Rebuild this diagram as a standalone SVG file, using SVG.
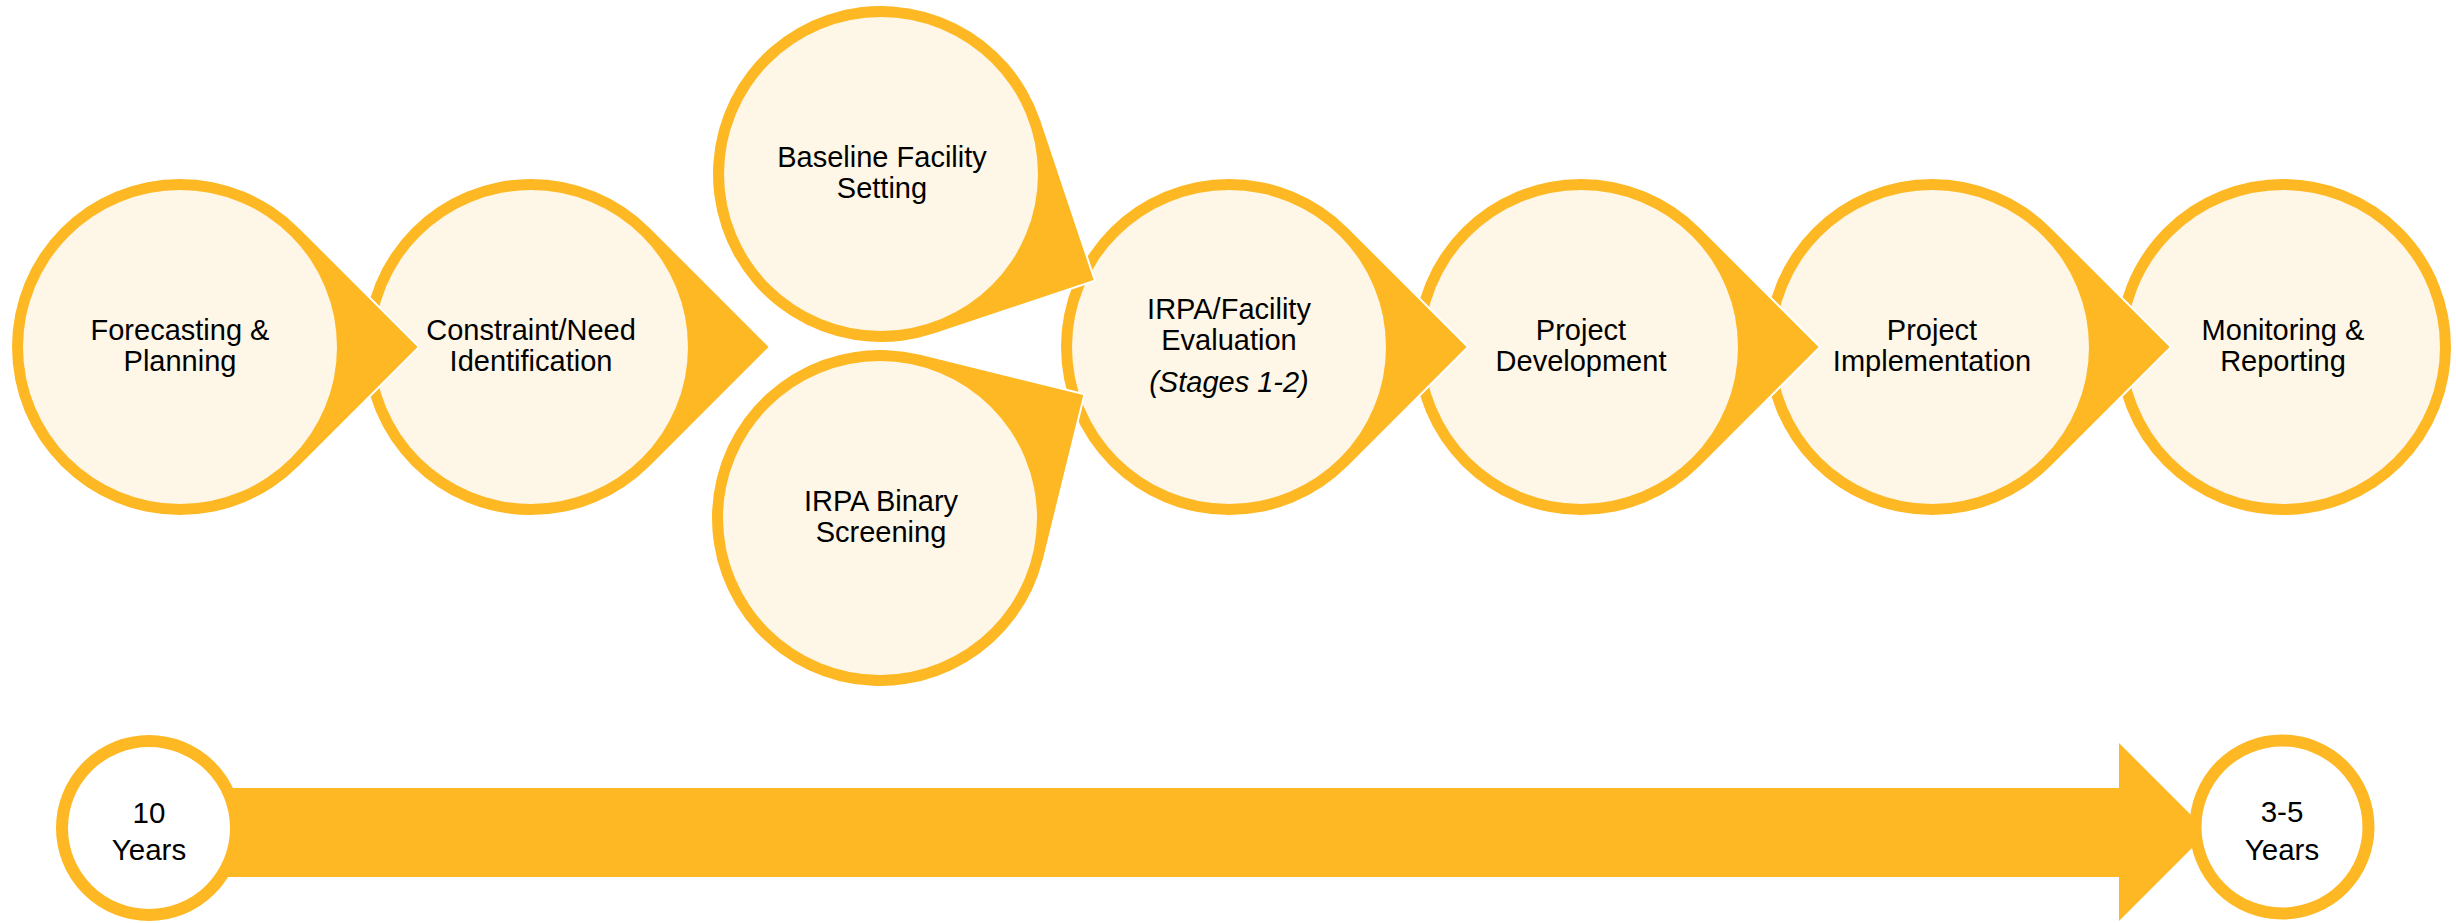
<svg xmlns="http://www.w3.org/2000/svg" xmlns:xlink="http://www.w3.org/1999/xlink" width="2456" height="923" viewBox="0 0 2456 923">
  <style>
    .drop { fill: #FDB823; stroke: #FFFFFF; stroke-width: 4; paint-order: stroke; stroke-linejoin: miter; }
    .core { fill: #FEF6E6; }
    .ring { fill: #FEF6E6; stroke: #FDB823; stroke-width: 11; }
    .stamp { fill: #FFFFFF; stroke: #FDB823; stroke-width: 12; }
    .bar { fill: #FDB823; }
    .label { font-family: "Liberation Sans", Arial, sans-serif; font-size: 29px; fill: #000000; text-anchor: middle; }
    .big { font-size: 29.5px; }
    .em { font-style: italic; }
  </style>
  <defs>
    <!-- teardrop: circle r=168 with a square corner pointing along +x -->
    <path id="drop" d="M 237.6 0 L 118.8 118.8 A 168 168 0 1 1 118.8 -118.8 Z"/>
  </defs>

  <rect width="2456" height="923" fill="#FFFFFF"/>

  <!-- process steps, drawn right to left so each pointer sits on the next step -->
  <g id="monitoring">
    <circle class="ring" cx="2283" cy="347" r="162.5"/>
    <text class="label"><tspan x="2283" y="340">Monitoring &amp;</tspan><tspan x="2283" y="371">Reporting</tspan></text>
  </g>

  <g id="implementation">
    <use xlink:href="#drop" class="drop" transform="translate(1932 347)"/>
    <circle class="core" cx="1932" cy="347" r="157"/>
    <text class="label"><tspan x="1932" y="340">Project</tspan><tspan x="1932" y="371">Implementation</tspan></text>
  </g>

  <g id="development">
    <use xlink:href="#drop" class="drop" transform="translate(1581 347)"/>
    <circle class="core" cx="1581" cy="347" r="157"/>
    <text class="label"><tspan x="1581" y="340">Project</tspan><tspan x="1581" y="371">Development</tspan></text>
  </g>

  <g id="evaluation">
    <use xlink:href="#drop" class="drop" transform="translate(1229 347)"/>
    <circle class="core" cx="1229" cy="347" r="157"/>
    <text class="label"><tspan x="1229" y="319">IRPA/Facility</tspan><tspan x="1229" y="350">Evaluation</tspan><tspan class="em" x="1229" y="392">(Stages 1-2)</tspan></text>
  </g>

  <g id="binary-screening">
    <use xlink:href="#drop" class="drop" transform="translate(880 518) rotate(-31.2)"/>
    <circle class="core" cx="880" cy="518" r="157"/>
    <text class="label"><tspan x="881" y="511">IRPA Binary</tspan><tspan x="881" y="542">Screening</tspan></text>
  </g>

  <g id="baseline-setting">
    <use xlink:href="#drop" class="drop" transform="translate(881 174) rotate(26.5)"/>
    <circle class="core" cx="881" cy="174" r="157"/>
    <text class="label"><tspan x="882" y="167">Baseline Facility</tspan><tspan x="882" y="198">Setting</tspan></text>
  </g>

  <g id="constraint">
    <use xlink:href="#drop" class="drop" transform="translate(531 347)"/>
    <circle class="core" cx="531" cy="347" r="157"/>
    <text class="label"><tspan x="531" y="340">Constraint/Need</tspan><tspan x="531" y="371">Identification</tspan></text>
  </g>

  <g id="forecasting">
    <use xlink:href="#drop" class="drop" transform="translate(180 347)"/>
    <circle class="core" cx="180" cy="347" r="157"/>
    <text class="label"><tspan x="180" y="340">Forecasting &amp;</tspan><tspan x="180" y="371">Planning</tspan></text>
  </g>

  <!-- timeline arrow -->
  <g id="connectors">
    <path class="bar" d="M 149 788 H 2119 V 743 L 2208 832 L 2119 921 V 877 H 149 Z"/>
  </g>

  <g id="start-10-years">
    <circle class="stamp" cx="149" cy="828" r="87"/>
    <text class="label big"><tspan x="149" y="823">10</tspan><tspan x="149" y="860">Years</tspan></text>
  </g>

  <g id="end-3-5-years">
    <circle class="stamp" cx="2282" cy="827" r="86.5"/>
    <text class="label big"><tspan x="2282" y="822">3-5</tspan><tspan x="2282" y="860">Years</tspan></text>
  </g>
</svg>
